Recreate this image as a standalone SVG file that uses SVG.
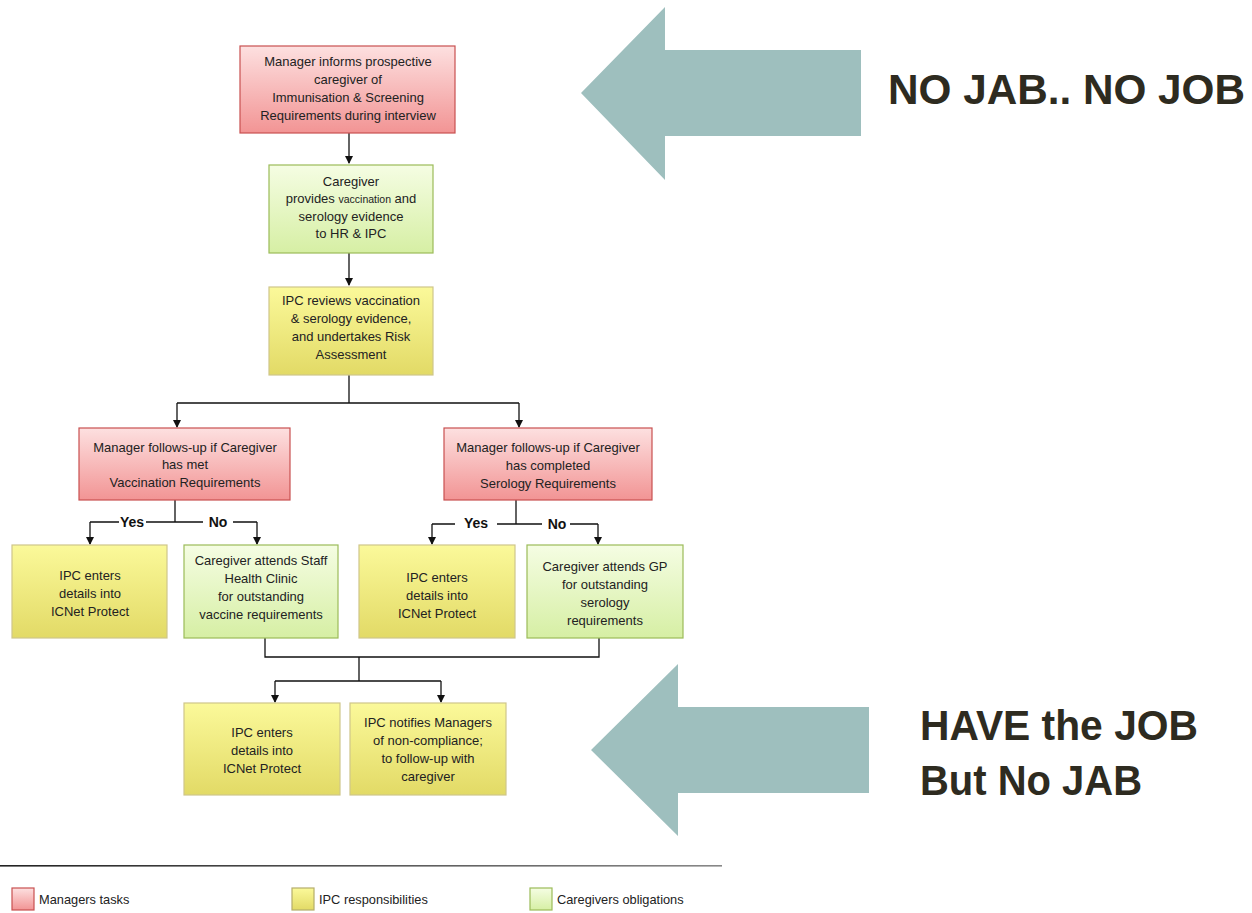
<svg xmlns="http://www.w3.org/2000/svg" width="1252" height="913" viewBox="0 0 1252 913">
<style>
.t{font-family:"Liberation Sans",Arial,sans-serif;font-size:13px;fill:#222;text-anchor:middle}
.yn{font-family:"Liberation Sans",Arial,sans-serif;font-size:14px;font-weight:bold;fill:#111;text-anchor:middle}
.lg{font-family:"Liberation Sans",Arial,sans-serif;font-size:12.8px;fill:#222}
.big{font-family:"Liberation Sans",Arial,sans-serif;font-size:43px;font-weight:bold;fill:#2e2b20}
.red{fill:url(#gr);stroke:#c85050;stroke-width:1.2}
.grn{fill:url(#gg);stroke:#9bbb59;stroke-width:1.2}
.yel{fill:url(#gy);stroke:#cfc68a;stroke-width:1.2}
.c{fill:none;stroke:#111;stroke-width:1.3}
.ar{fill:#9ebfbe}
</style>
<defs>
<linearGradient id="gr" x1="0" y1="0" x2="0" y2="1"><stop offset="0" stop-color="#fde0e0"/><stop offset="1" stop-color="#f29494"/></linearGradient>
<linearGradient id="gg" x1="0" y1="0" x2="0" y2="1"><stop offset="0" stop-color="#f5fde3"/><stop offset="1" stop-color="#d6efa4"/></linearGradient>
<linearGradient id="gy" x1="0" y1="0" x2="0" y2="1"><stop offset="0" stop-color="#fbf99a"/><stop offset="1" stop-color="#e2da66"/></linearGradient>
<linearGradient id="gl" x1="0" y1="0" x2="1" y2="0"><stop offset="0" stop-color="#222"/><stop offset="1" stop-color="#888"/></linearGradient>
<marker id="ah" markerWidth="8" markerHeight="8" refX="7" refY="4" orient="auto" markerUnits="userSpaceOnUse"><path d="M0,0 L8,4 L0,8 z" fill="#111"/></marker>
</defs>

<g id="arrow-top"><polygon class="ar" points="581,93 665,7 665,50 861,50 861,136 665,136 665,180"/></g>
<g id="label-top"><text class="big" x="888" y="104" textLength="357" lengthAdjust="spacingAndGlyphs">NO JAB.. NO JOB</text></g>
<g id="arrow-bottom"><polygon class="ar" points="591,750 678,664 678,707 869,707 869,793 678,793 678,836"/></g>
<g id="label-bottom"><text class="big" x="920" y="740" textLength="278" lengthAdjust="spacingAndGlyphs">HAVE the JOB</text><text class="big" x="920" y="795" textLength="222" lengthAdjust="spacingAndGlyphs">But No JAB</text></g>

<g id="connectors">
<path class="c" d="M349,133 V163" marker-end="url(#ah)"/>
<path class="c" d="M349,253 V285" marker-end="url(#ah)"/>
<path class="c" d="M349,375 V403 M177,403 H519"/>
<path class="c" d="M177,403 V427" marker-end="url(#ah)"/>
<path class="c" d="M519,403 V427" marker-end="url(#ah)"/>
<path class="c" d="M175,500 V522 M146,522 H203 M233,522 H257 M119,522 H90"/>
<path class="c" d="M90,522 V544" marker-end="url(#ah)"/>
<path class="c" d="M257,522 V544" marker-end="url(#ah)"/>
<path class="c" d="M516,500 V524 M497,524 H542 M570,524 H598 M455,524 H432"/>
<path class="c" d="M432,524 V544" marker-end="url(#ah)"/>
<path class="c" d="M598,524 V544" marker-end="url(#ah)"/>
<path class="c" d="M265,638 V657 H599 V638 M359,657 V681 M275,681 H441"/>
<path class="c" d="M275,681 V702" marker-end="url(#ah)"/>
<path class="c" d="M441,681 V702" marker-end="url(#ah)"/>
<text class="yn" x="132" y="527">Yes</text>
<text class="yn" x="218" y="527">No</text>
<text class="yn" x="476" y="528">Yes</text>
<text class="yn" x="557" y="529">No</text>
</g>

<g id="n1"><rect class="red" x="240" y="46" width="215" height="87"/>
<text class="t" x="348" y="66">Manager informs prospective</text>
<text class="t" x="348" y="84">caregiver of</text>
<text class="t" x="348" y="102">Immunisation &amp; Screening</text>
<text class="t" x="348" y="120">Requirements during interview</text></g>

<g id="n2"><rect class="grn" x="269" y="165" width="164" height="88"/>
<text class="t" x="351" y="186">Caregiver</text>
<text class="t" x="351" y="203">provides <tspan font-size="10.5">vaccination</tspan> and</text>
<text class="t" x="351" y="221">serology evidence</text>
<text class="t" x="351" y="238">to HR &amp; IPC</text></g>

<g id="n3"><rect class="yel" x="269" y="287" width="164" height="88"/>
<text class="t" x="351" y="305">IPC reviews vaccination</text>
<text class="t" x="351" y="323">&amp; serology evidence,</text>
<text class="t" x="351" y="341">and undertakes Risk</text>
<text class="t" x="351" y="359">Assessment</text></g>

<g id="n4"><rect class="red" x="79" y="428" width="211" height="72"/>
<text class="t" x="185" y="452">Manager follows-up if Caregiver</text>
<text class="t" x="185" y="469">has met</text>
<text class="t" x="185" y="487">Vaccination Requirements</text></g>

<g id="n5"><rect class="red" x="444" y="428" width="208" height="72"/>
<text class="t" x="548" y="452">Manager follows-up if Caregiver</text>
<text class="t" x="548" y="470">has completed</text>
<text class="t" x="548" y="488">Serology Requirements</text></g>

<g id="n6"><rect class="yel" x="12" y="545" width="155" height="93"/>
<text class="t" x="90" y="580">IPC enters</text>
<text class="t" x="90" y="598">details into</text>
<text class="t" x="90" y="616">ICNet Protect</text></g>

<g id="n7"><rect class="grn" x="184" y="545" width="154" height="93"/>
<text class="t" x="261" y="565">Caregiver attends Staff</text>
<text class="t" x="261" y="583">Health Clinic</text>
<text class="t" x="261" y="601">for outstanding</text>
<text class="t" x="261" y="619">vaccine requirements</text></g>

<g id="n8"><rect class="yel" x="359" y="545" width="156" height="93"/>
<text class="t" x="437" y="582">IPC enters</text>
<text class="t" x="437" y="600">details into</text>
<text class="t" x="437" y="618">ICNet Protect</text></g>

<g id="n9"><rect class="grn" x="527" y="545" width="156" height="93"/>
<text class="t" x="605" y="571">Caregiver attends GP</text>
<text class="t" x="605" y="589">for outstanding</text>
<text class="t" x="605" y="607">serology</text>
<text class="t" x="605" y="625">requirements</text></g>

<g id="n10"><rect class="yel" x="184" y="703" width="156" height="92"/>
<text class="t" x="262" y="737">IPC enters</text>
<text class="t" x="262" y="755">details into</text>
<text class="t" x="262" y="773">ICNet Protect</text></g>

<g id="n11"><rect class="yel" x="350" y="703" width="156" height="92"/>
<text class="t" x="428" y="727">IPC notifies Managers</text>
<text class="t" x="428" y="745">of non-compliance;</text>
<text class="t" x="428" y="763">to follow-up with</text>
<text class="t" x="428" y="781">caregiver</text></g>

<g id="legend">
<rect x="0" y="865" width="722" height="1.6" fill="url(#gl)"/>
<rect class="red" x="12" y="888" width="22" height="22"/>
<text class="lg" x="39" y="904">Managers tasks</text>
<rect class="yel" x="292" y="888" width="22" height="22" style="stroke:#b5ad6a"/>
<text class="lg" x="319" y="904">IPC responsibilities</text>
<rect class="grn" x="530" y="888" width="22" height="22"/>
<text class="lg" x="557" y="904">Caregivers obligations</text>
</g>
</svg>
